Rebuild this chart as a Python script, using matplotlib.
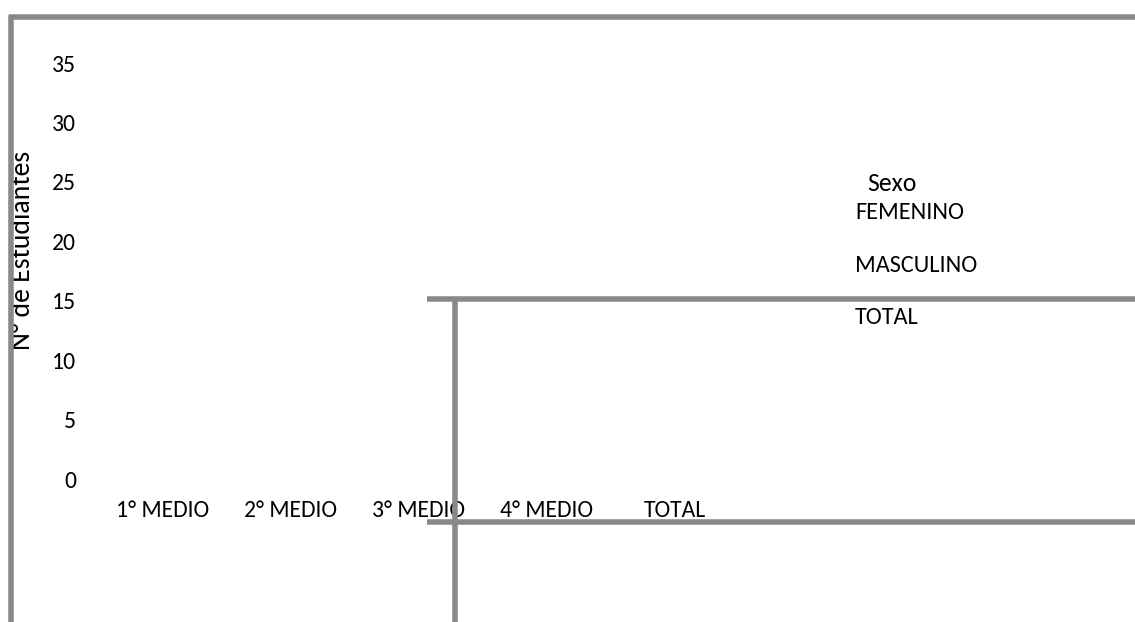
import matplotlib
matplotlib.use("Agg")
import matplotlib.pyplot as plt
from matplotlib.lines import Line2D
from matplotlib.patches import Patch

# chart data (no bars were rendered in the source chart)
categories = ["1° MEDIO", "2° MEDIO", "3° MEDIO", "4° MEDIO", "TOTAL"]
series = ["FEMENINO", "MASCULINO", "TOTAL"]
y_ticks = [0, 5, 10, 15, 20, 25, 30, 35]
y_label = "N° de Estudiantes"
legend_title = "Sexo"

W, H = 1135, 622
FRAME = "#898989"

plt.rcParams["font.family"] = ["Carlito", "Lato", "DejaVu Sans"]


def px(x, y):
    return x / W, 1 - y / H


def frame_line(fig, x0, y0, x1, y1):
    a, b = px(x0, y0)
    c, d = px(x1, y1)
    fig.add_artist(Line2D([a, c], [b, d], color=FRAME, lw=4,
                          solid_capstyle="butt", zorder=5))


def main():
    fig = plt.figure(figsize=(W / 100, H / 100), dpi=100)

    # axes: left 86px, top 40px, bottom 497px
    left, top, bottom = 86, 40, 497
    ax = fig.add_axes([left / W, (H - bottom) / H, 1 - left / W, (bottom - top) / H])
    per = (479 - 63) / 35.0
    ax.set_ylim(-(bottom - 479) / per, (479 - top) / per)
    step = 128.0
    ax.set_xlim(-(163 - left) / step, (W - 163) / step)
    ax.set_xticks(range(len(categories)), categories)
    ax.set_yticks(y_ticks)
    ax.tick_params(length=0, labelsize=17, pad=2)
    ax.tick_params(axis="y", pad=7)
    for s in ax.spines.values():
        s.set_visible(False)

    fig.text(23 / W, 1 - 250 / H, y_label, rotation=90, ha="center",
             va="center", fontsize=20)

    handles = [Patch(visible=False) for _ in series]
    ax.legend(handles, series, frameon=False,
              loc="upper left", bbox_to_anchor=px(855, 202),
              bbox_transform=fig.transFigure, handlelength=0,
              handletextpad=0, borderpad=0, borderaxespad=0,
              labelspacing=1.3, fontsize=17.5)
    fig.text(867 / W, 1 - 183 / H, legend_title, ha="left", va="center",
             fontsize=18.5)

    # misplaced chart/plot area borders
    frame_line(fig, 9, 17, W, 17)
    frame_line(fig, 11, 15, 11, H)
    frame_line(fig, 427, 299, W, 299)
    frame_line(fig, 427, 522, W, 522)
    frame_line(fig, 455, 297, 455, H)

    fig.savefig("out.png", dpi=100)


if __name__ == "__main__":
    main()
